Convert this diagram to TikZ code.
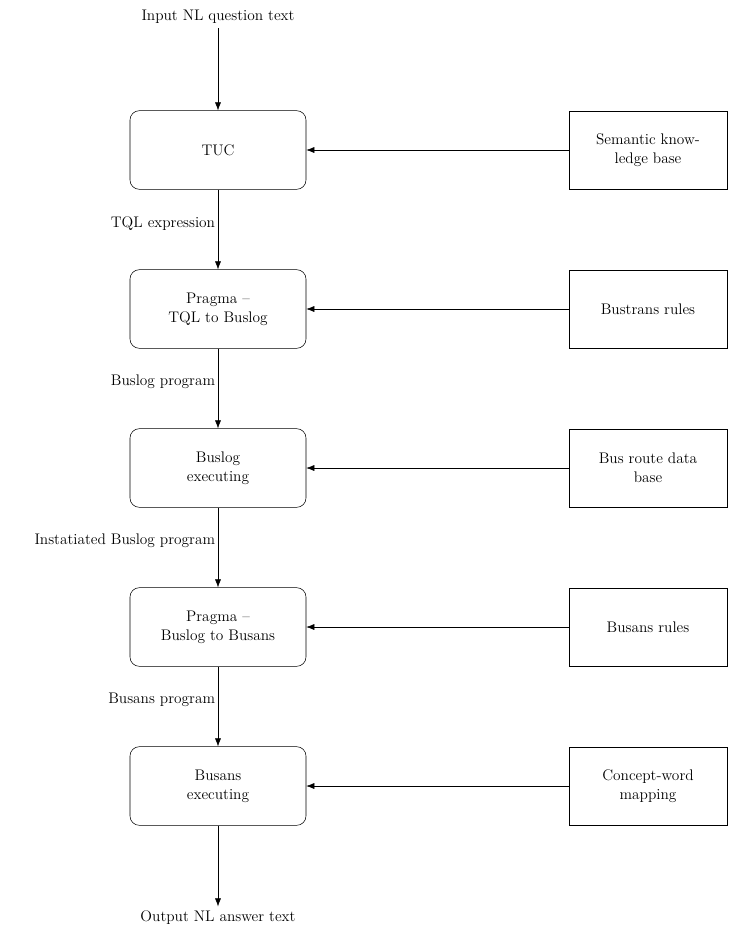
\documentclass[tikz,border=0pt]{standalone}
\usepackage{tikz}
\usetikzlibrary{arrows.meta}

\begin{document}
\begin{tikzpicture}[x=0.75pt, y=-0.75pt, >={Latex[length=6pt,width=4.5pt]},
    font=\fontsize{11.5}{14}\selectfont,
    stagebox/.style={draw, rounded corners=7pt, minimum width=132pt, minimum height=59pt, align=center},
    sourcebox/.style={draw, minimum width=118.5pt, minimum height=58.5pt, align=center},
    edgelabel/.style={left, inner sep=2pt}]
    % Fix the page size
    \useasboundingbox (0,0) rectangle (749,929);

    % Input and output texts
    \node (input) at (218,17) {Input NL question text};
    \node (output) at (218,918) {Output NL answer text};

    % Processing stages
    \node[stagebox] (tuc) at (218,150) {TUC};
    \node[stagebox] (pragmaA) at (218,309) {Pragma --\\TQL to Buslog};
    \node[stagebox] (buslog) at (218,468) {Buslog\\executing};
    \node[stagebox] (pragmaB) at (218,627) {Pragma --\\Buslog to Busans};
    \node[stagebox] (busans) at (218,786) {Busans\\executing};

    % Knowledge sources
    \node[sourcebox] (semantic) at (648,150) {Semantic know-\\ledge base};
    \node[sourcebox] (bustrans) at (648,309) {Bustrans rules};
    \node[sourcebox] (routedb) at (648,468) {Bus route data\\base};
    \node[sourcebox] (busrules) at (648,627) {Busans rules};
    \node[sourcebox] (concept) at (648,786) {Concept-word\\mapping};

    % Main flow
    \draw[->] (input) -- (tuc);
    \draw[->] (tuc) -- node[edgelabel, pos=0.42] {TQL expression} (pragmaA);
    \draw[->] (pragmaA) -- node[edgelabel, pos=0.42] {Buslog program} (buslog);
    \draw[->] (buslog) -- node[edgelabel, pos=0.42] {Instatiated Buslog program} (pragmaB);
    \draw[->] (pragmaB) -- node[edgelabel, pos=0.42] {Busans program} (busans);
    \draw[->] (busans) -- (output);

    % Side inputs
    \draw[->] (semantic) -- (tuc);
    \draw[->] (bustrans) -- (pragmaA);
    \draw[->] (routedb) -- (buslog);
    \draw[->] (busrules) -- (pragmaB);
    \draw[->] (concept) -- (busans);

\end{tikzpicture}
\end{document}
